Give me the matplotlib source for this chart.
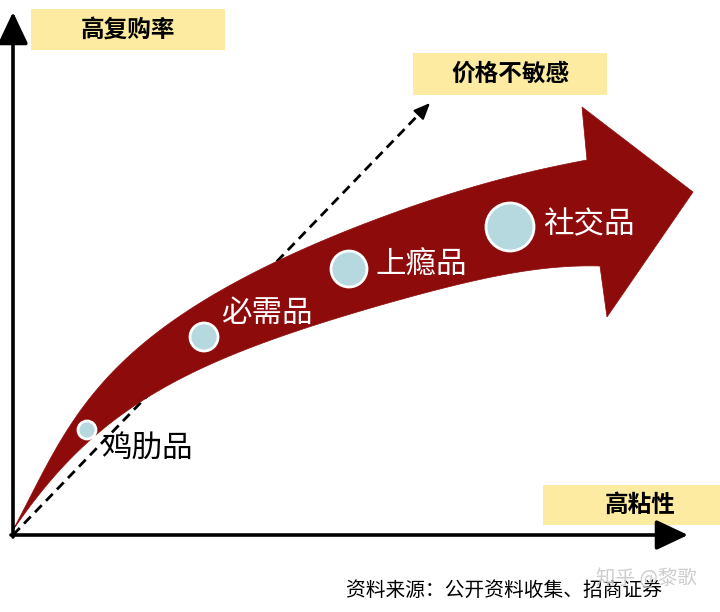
import matplotlib
matplotlib.use("Agg")
import numpy as np
from math import comb
import matplotlib.pyplot as plt
from matplotlib.path import Path
from matplotlib.patches import PathPatch, Circle, Rectangle

plt.rcParams['font.family'] = ['Noto Sans CJK SC', 'DejaVu Sans']

# ---- data (diagram coordinates: x = stickiness, y = repurchase) ----
categories = ['鸡肋品', '必需品', '上瘾品', '社交品']
stickiness = [74, 191, 336, 497]
repurchase = [105, 198, 266, 308]
bubble_r = [9, 14, 18, 24]
label_x = [134, 254, 408, 576]
label_y = [87, 222, 270, 310]
label_colors = ['black', 'white', 'white', 'white']

y_title = '高复购率'
x_title = '高粘性'
diag_title = '价格不敏感'
source = '资料来源：公开资料收集、招商证券'
watermark = '知乎 @黎歌'

RED = '#8E0B0B'
YELLOW = '#FCEBA0'
BUBBLE = '#B5D9DE'

fig = plt.figure(figsize=(7.2, 6.12), dpi=100)
ax = fig.add_axes([0, 0, 1, 1])
ax.set_xlim(-13, 707)
ax.set_ylim(-77, 535)
ax.set_aspect('equal')
ax.axis('off')


def bern(t, n):
    return np.stack([comb(n, k) * t ** k * (1 - t) ** (n - k) for k in range(n + 1)], axis=1)


def smooth_outline(pts, deg=5, n_out=200):
    """Least-squares Bezier (fixed ends) through outline points, sampled densely."""
    pts = np.asarray(pts, float)
    d = np.r_[0, np.cumsum(np.hypot(*np.diff(pts, axis=0).T))]
    t = d / d[-1]
    tt = np.linspace(0, 1, 2000)
    for _ in range(15):
        Bm = bern(t, deg)
        rhs = pts - np.outer(Bm[:, 0], pts[0]) - np.outer(Bm[:, -1], pts[-1])
        inner, *_ = np.linalg.lstsq(Bm[:, 1:-1], rhs, rcond=None)
        ctrl = np.vstack([pts[0], inner, pts[-1]])
        dense = bern(tt, deg) @ ctrl
        idx = np.argmin(((pts[:, None, :] - dense[None, :, :]) ** 2).sum(-1), axis=1)
        t = tt[idx]
        t[0], t[-1] = 0, 1
    return bern(np.linspace(0, 1, n_out), deg) @ ctrl


# ---- curved big arrow (decorative shape outline) ----
upper = [(0, 5), (17, 39), (37, 74), (57, 107), (80, 142), (114, 180), (147, 205),
         (180, 227), (207, 242), (237, 260), (267, 275), (304, 292), (357, 314),
         (387, 325), (454, 346), (520, 363), (574, 375)]
lower = [(0, 5), (27, 42), (54, 72), (74, 92), (90, 105), (114, 125), (147, 145),
         (180, 165), (207, 175), (254, 191), (320, 215), (387, 237), (454, 253),
         (520, 264), (587, 269)]
head = [(569, 428), (680, 343), (594, 218)]

outline = np.vstack([smooth_outline(upper), np.array(head), smooth_outline(lower[::-1])])
codes = [Path.MOVETO] + [Path.LINETO] * (len(outline) - 1)
outline = np.vstack([outline, outline[:1]])
codes.append(Path.CLOSEPOLY)
ax.add_patch(PathPatch(Path(outline, codes), facecolor=RED, edgecolor=RED, lw=0.5, zorder=2))

# ---- dashed line (under the big arrow) ----
ax.plot([0, 410], [0, 425], ls=(0, (3.5, 2.2)), color='black', lw=2.0, zorder=1.5)
ax.annotate('', xy=(417, 432), xytext=(406, 420.5),
            arrowprops=dict(arrowstyle='-|>,head_width=0.3,head_length=0.7',
                            mutation_scale=14, color='black', lw=1.5,
                            shrinkA=0, shrinkB=0), zorder=1.5)

# ---- axes arrows ----
ap = dict(arrowstyle='-|>,head_width=0.33,head_length=0.7', mutation_scale=28,
          color='black', lw=2.6, shrinkA=0, shrinkB=0)
ax.annotate('', xy=(0, 523), xytext=(0, -2), arrowprops=ap, zorder=4)
ax.annotate('', xy=(675, 0), xytext=(-2, 0), arrowprops=ap, zorder=4)

# ---- bubbles and labels ----
for cx, cy, r in zip(stickiness, repurchase, bubble_r):
    ax.add_patch(Circle((cx, cy), r, facecolor=BUBBLE, edgecolor='white', lw=2, zorder=5))
for name, lx, ly, c in zip(categories, label_x, label_y, label_colors):
    ax.text(lx, ly, name, color=c, fontsize=22, ha='center', va='center', zorder=6)

# ---- title boxes ----
boxes = [(18, 485, 194, 41, y_title, 115, 505),
         (400, 440, 194, 42, diag_title, 497, 461),
         (530, 10, 180, 40, x_title, 627, 30)]
for bx, by, bw, bh, txt, tx, ty in boxes:
    ax.add_patch(Rectangle((bx, by), bw, bh, facecolor=YELLOW, edgecolor='none', zorder=1))
    ax.text(tx, ty, txt, fontsize=17, fontweight='bold', ha='center', va='center', zorder=6)

# ---- footer ----
ax.text(491, -55, source, fontsize=14.2, ha='center', va='center', color='black')
ax.text(633, -43, watermark, fontsize=14, ha='center', va='center', color='#C8C8C8', alpha=0.9)

fig.savefig('out.png', dpi=100)
